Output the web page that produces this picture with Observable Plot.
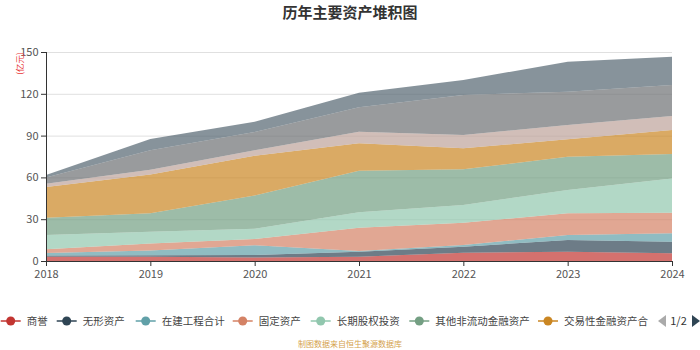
<!DOCTYPE html>
<html><head><meta charset="utf-8">
<script src="https://cdn.jsdelivr.net/npm/d3@7"></script>
<script src="https://cdn.jsdelivr.net/npm/@observablehq/plot@0.6"></script>
<style>
body{margin:0;background:#fff;font-family:"Noto Sans CJK SC","Noto Sans",sans-serif;}
#wrap{position:relative;width:700px;height:350px;overflow:hidden;}
#title{position:absolute;left:0;top:2px;width:700px;text-align:center;font-size:15px;font-weight:bold;color:#333;line-height:20px;}
#chart{position:absolute;left:0;top:28px;}
#legend{position:absolute;left:0;top:306px;}
#caption{position:absolute;left:0;top:338px;width:700px;text-align:center;font-size:8px;color:#d4a24c;line-height:12px;}
</style></head><body>
<div id="wrap">
  <div id="title">历年主要资产堆积图</div>
  <div id="chart"></div>
  <div id="legend"></div>
  <div id="caption">制图数据来自恒生聚源数据库</div>
</div>
<script>
const years = [2018, 2019, 2020, 2021, 2022, 2023, 2024];
const seriesNames = ["商誉", "无形资产", "在建工程合计", "固定资产", "长期股权投资", "其他非流动金融资产", "交易性金融资产合计", "应收账款", "存货", "货币资金"];
const colors = ["#c23531", "#2f4554", "#61a0a8", "#d48265", "#91c7ae", "#749f83", "#ca8622", "#bda29a", "#6e7074", "#546570"];
const yTicks = [0, 30, 60, 90, 120, 150];

// values in 亿元
const goodwill      = [3.0, 3.0, 2.6, 3.1, 6.0, 6.7, 5.5];
const intangible    = [1.0, 1.2, 1.7, 3.6, 4.3, 8.4, 8.4];
const construction  = [1.8, 3.4, 7.0, 0.5, 1.2, 3.6, 6.0];
const fixedAssets   = [2.7, 4.9, 4.5, 16.7, 16.0, 15.5, 14.8];
const equityInvest  = [10.2, 8.5, 7.4, 11.1, 12.7, 16.8, 24.6];
const otherNonCurFin= [12.3, 13.2, 23.8, 29.8, 25.6, 23.9, 17.5];
const tradingFin    = [22.2, 27.8, 28.5, 19.7, 15.1, 12.4, 17.2];
const receivables   = [2.3, 3.5, 4.0, 8.3, 9.5, 10.3, 10.0];
const inventory     = [4.5, 14.0, 13.0, 17.5, 28.7, 23.9, 22.3];
const cash          = [1.8, 8.0, 7.5, 10.5, 10.8, 21.5, 20.3];

const seriesValues = [goodwill, intangible, construction, fixedAssets, equityInvest, otherNonCurFin, tradingFin, receivables, inventory, cash];
const rows = [];
seriesNames.forEach((name, i) => years.forEach((yr, j) => rows.push({series: name, year: yr, value: seriesValues[i][j]})));

const font = '"Noto Sans CJK SC","Noto Sans",sans-serif';
const plot = Plot.plot({
  width: 700, height: 265,
  marginTop: 24, marginBottom: 32, marginLeft: 46, marginRight: 28,
  x: {domain: [2018, 2024], label: null},
  y: {domain: [0, 150], label: null},
  color: {domain: seriesNames, range: colors},
  style: {fontFamily: font, fontSize: "11px", background: "transparent", overflow: "visible"},
  marks: [
    Plot.gridY(yTicks, {stroke: "#e0e0e0", strokeOpacity: 1, strokeWidth: 1}),
    Plot.areaY(rows, Plot.stackY({x: "year", y: "value", z: "series", fill: "series", fillOpacity: 0.7, order: seriesNames, curve: "linear"})),
    Plot.ruleX([2018], {stroke: "#333", strokeWidth: 1}),
    Plot.ruleY([0], {stroke: "#333", strokeWidth: 1}),
    Plot.axisY(yTicks, {tickSize: 5, tickPadding: 3, stroke: "#333", fill: "#555", fontSize: 11}),
    Plot.axisX(years, {tickSize: 5, tickPadding: 4, stroke: "#333", fill: "#555", fontSize: 11, tickFormat: d => String(d)})
  ]
});
document.getElementById("chart").appendChild(plot);

// y-axis unit label
d3.select(plot).append("text")
  .attr("x", 20).attr("y", 24)
  .attr("transform", "rotate(-90,20,24)")
  .attr("text-anchor", "end").attr("dy", "0.35em")
  .attr("fill", "#e8393a").attr("font-size", 8.5).attr("font-family", font)
  .text("(亿元)");

// legend (page 1 of 2); labels truncated to fit before the pager, as in the source
const legendCenters = [10.7, 66.7, 145.7, 242.7, 320.7, 419.3, 548];
const legendRight = 654;
const lg = d3.select("#legend").append("svg").attr("width", 700).attr("height", 30);
legendCenters.forEach((cx, i) => {
  const g = lg.append("g");
  g.append("line").attr("x1", cx - 10).attr("x2", cx + 10).attr("y1", 15).attr("y2", 15)
    .attr("stroke", colors[i]).attr("stroke-width", 1.5);
  g.append("circle").attr("cx", cx).attr("cy", 15).attr("r", 4.5).attr("fill", colors[i]);
  const t = g.append("text").attr("x", cx + 16).attr("y", 15).attr("dy", "0.35em")
    .attr("font-size", 10.5).attr("font-family", font).attr("fill", "#444").text(seriesNames[i]);
  let label = seriesNames[i];
  while (label.length > 1 && cx + 16 + t.node().getComputedTextLength() > legendRight) {
    label = label.slice(0, -1);
    t.text(label);
  }
});
lg.append("path").attr("d", "M 666 9 L 666 21 L 658 15 Z").attr("fill", "#aaa");
lg.append("text").attr("x", 678.5).attr("y", 15).attr("dy", "0.35em").attr("text-anchor", "middle")
  .attr("font-size", 11).attr("font-family", font).attr("fill", "#333").text("1/2");
lg.append("path").attr("d", "M 692 9 L 692 21 L 700 15 Z").attr("fill", "#2f4554");
</script>
</body></html>
